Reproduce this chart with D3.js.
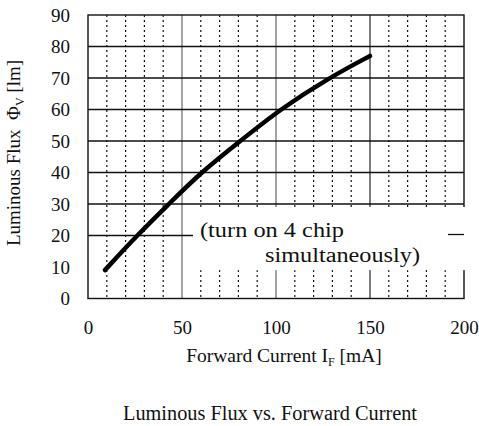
<!DOCTYPE html>
<html>
<head>
<meta charset="utf-8">
<script src="https://cdn.jsdelivr.net/npm/d3@7"></script>
<style>
  body { margin: 0; background: #fff; }
  svg { display: block; }
  text { font-family: "Liberation Serif", "Times New Roman", serif; fill: #111; }
</style>
</head>
<body>
<svg id="chart" width="479" height="426"></svg>
<script>
// forward current (mA) vs luminous flux (lm)
var current = [9, 26, 43, 60, 81, 102, 128, 150];
var flux = [9, 20, 30, 40, 50, 60, 70, 77];

var xTicks = [0, 50, 100, 150, 200];
var yTicks = [0, 10, 20, 30, 40, 50, 60, 70, 80, 90];
var gridY = [20, 30, 40, 50, 60, 70, 80];
var minorX = d3.range(0, 201, 10).filter(function (d) { return d % 50 !== 0; });
var noteLines = ["(turn on 4 chip", "simultaneously)"];

var svg = d3.select("#chart");
var x = d3.scaleLinear().domain([0, 200]).range([88, 464]);
var y = d3.scaleLinear().domain([0, 90]).range([298.5, 15]);

var grid = svg.append("g");

// dotted minor verticals every 10 mA
grid.selectAll(".minor").data(minorX).enter().append("line")
    .attr("x1", function (d) { return x(d); })
    .attr("x2", function (d) { return x(d); })
    .attr("y1", y(90)).attr("y2", y(0))
    .style("stroke", "#111").style("stroke-width", 1.2)
    .style("stroke-dasharray", "2,3");

// solid verticals at 50/100/150
grid.selectAll(".major").data([50, 100, 150]).enter().append("line")
    .attr("x1", function (d) { return x(d); })
    .attr("x2", function (d) { return x(d); })
    .attr("y1", y(90)).attr("y2", y(0))
    .style("stroke", function (d) { return d === 150 ? "#222" : "#666"; })
    .style("stroke-width", 1.2);

// horizontal grid (no line at 10 in the original)
grid.selectAll(".hline").data(gridY).enter().append("line")
    .attr("x1", x(0)).attr("x2", x(200))
    .attr("y1", function (d) { return y(d); })
    .attr("y2", function (d) { return y(d); })
    .style("stroke", "#111").style("stroke-width", 1.4);

// frame
svg.append("rect")
    .attr("x", x(0)).attr("y", y(90))
    .attr("width", x(200) - x(0)).attr("height", y(0) - y(90))
    .style("fill", "none").style("stroke", "#111").style("stroke-width", 1.4);

// blank area behind the note
svg.append("rect")
    .attr("x", 193).attr("y", y(30) + 3)
    .attr("width", 274).attr("height", y(9) - y(30) - 3)
    .style("fill", "#fff");
svg.append("line")
    .attr("x1", 448).attr("x2", x(200))
    .attr("y1", y(20) - 1).attr("y2", y(20) - 1)
    .style("stroke", "#111").style("stroke-width", 1.3);

// curve
var line = d3.line()
    .x(function (d) { return x(d[0]); })
    .y(function (d) { return y(d[1]); })
    .curve(d3.curveBasis);
svg.append("path")
    .datum(d3.zip(current, flux))
    .attr("d", line)
    .style("fill", "none").style("stroke", "#000")
    .style("stroke-width", 4.5).style("stroke-linecap", "round");

// axes labels
var yAxis = d3.axisLeft(y).tickValues(yTicks).tickSize(0).tickPadding(18);
var gy = svg.append("g").attr("transform", "translate(" + x(0) + ",0)").call(yAxis);
var xAxis = d3.axisBottom(x).tickValues(xTicks).tickSize(0).tickPadding(22);
var gx = svg.append("g").attr("transform", "translate(0," + y(0) + ")").call(xAxis);
[gx, gy].forEach(function (g) {
    g.select(".domain").remove();
    g.selectAll("text").style("font-size", "19px").style("font-family", "Liberation Serif, serif").style("fill", "#111");
});

// note
svg.selectAll(".note").data(noteLines).enter().append("text")
    .attr("x", function (d, i) { return i === 0 ? 200 : 265; })
    .attr("y", function (d, i) { return i === 0 ? 237 : 262; })
    .attr("textLength", function (d, i) { return i === 0 ? 144 : 155; })
    .attr("lengthAdjust", "spacingAndGlyphs")
    .style("font-size", "20px")
    .text(function (d) { return d; });

// x axis title
var xt = svg.append("text")
    .attr("x", 284).attr("y", 362)
    .attr("text-anchor", "middle")
    .style("font-size", "19.5px");
xt.append("tspan").text("Forward Current I");
xt.append("tspan").attr("dy", 4).style("font-size", "12px").text("F");
xt.append("tspan").attr("dy", -4).text(" [mA]");

// y axis title
var yt = svg.append("text")
    .attr("transform", "translate(20,153) rotate(-90)")
    .attr("text-anchor", "middle")
    .style("font-size", "19px")
    .style("white-space", "pre");
yt.append("tspan").text("Luminous Flux  Φ");
yt.append("tspan").attr("dy", 4).style("font-size", "12px").text("V");
yt.append("tspan").attr("dy", -4).text(" [lm]");

// chart caption
svg.append("text")
    .attr("x", 270).attr("y", 420)
    .attr("text-anchor", "middle")
    .attr("textLength", 294)
    .attr("lengthAdjust", "spacingAndGlyphs")
    .style("font-size", "20px")
    .text("Luminous Flux vs. Forward Current");
</script>
</body>
</html>
